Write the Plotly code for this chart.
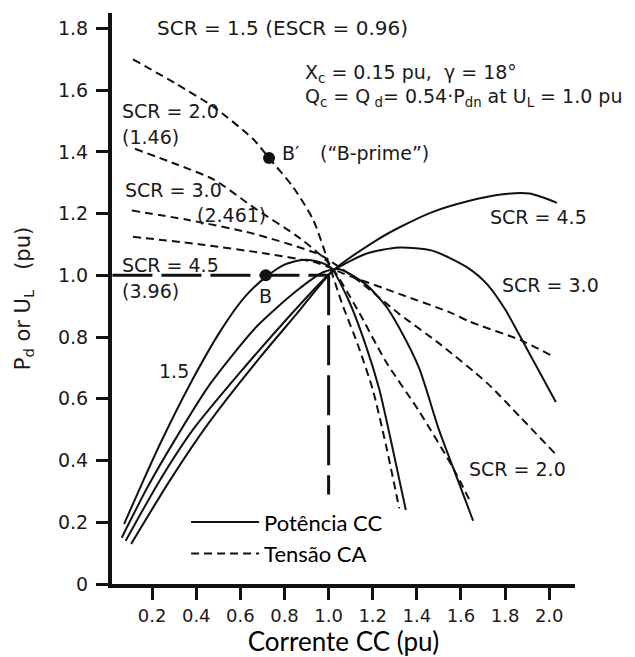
import plotly.graph_objects as go

# ---------------- data ----------------
# DC power Pd (solid) vs DC current, per SCR
pd15_x = [0.073, 0.16, 0.24, 0.37, 0.51, 0.62, 0.716, 0.80, 0.88, 0.95, 1.01, 1.09, 1.17, 1.23, 1.29, 1.35]
pd15_y = [0.195, 0.335, 0.46, 0.645, 0.82, 0.93, 0.995, 1.035, 1.05, 1.045, 1.025, 0.92, 0.77, 0.63, 0.44, 0.24]

pd20_x = [0.062, 0.18, 0.31, 0.46, 0.675, 0.855, 0.975, 1.05, 1.17, 1.26, 1.32, 1.41, 1.50, 1.60, 1.655]
pd20_y = [0.15, 0.315, 0.475, 0.645, 0.835, 0.95, 1.01, 1.02, 0.97, 0.90, 0.83, 0.70, 0.50, 0.31, 0.205]

pd30_x = [0.08, 0.23, 0.385, 0.61, 0.825, 0.975, 1.02, 1.17, 1.32, 1.47, 1.63, 1.72, 1.80, 1.87, 1.95, 2.03]
pd30_y = [0.14, 0.33, 0.50, 0.695, 0.87, 0.985, 1.015, 1.07, 1.09, 1.08, 1.025, 0.97, 0.89, 0.80, 0.695, 0.59]

pd45_x = [0.105, 0.28, 0.46, 0.69, 0.855, 1.02, 1.22, 1.32, 1.47, 1.63, 1.78, 1.91, 2.035]
pd45_y = [0.13, 0.335, 0.525, 0.735, 0.875, 1.015, 1.115, 1.155, 1.205, 1.24, 1.262, 1.265, 1.235]

# AC voltage UL (dashed) vs DC current, per SCR
ul15_x = [0.113, 0.31, 0.48, 0.66, 0.73, 0.84, 0.93, 1.0, 1.06, 1.13, 1.20, 1.26, 1.32]
ul15_y = [1.70, 1.62, 1.545, 1.44, 1.38, 1.285, 1.18, 1.04, 0.91, 0.78, 0.63, 0.45, 0.245]

ul20_x = [0.122, 0.31, 0.48, 0.66, 0.87, 1.0, 1.13, 1.26, 1.41, 1.565, 1.64]
ul20_y = [1.41, 1.36, 1.31, 1.22, 1.12, 1.04, 0.89, 0.72, 0.56, 0.375, 0.27]

ul30_x = [0.108, 0.36, 0.66, 0.95, 1.0, 1.14, 1.32, 1.50, 1.72, 1.87, 2.03]
ul30_y = [1.21, 1.18, 1.135, 1.07, 1.05, 0.98, 0.875, 0.78, 0.65, 0.54, 0.42]

ul45_x = [0.113, 0.42, 0.72, 0.95, 1.07, 1.32, 1.55, 1.64, 1.87, 2.01]
ul45_y = [1.125, 1.10, 1.07, 1.04, 1.005, 0.94, 0.88, 0.85, 0.79, 0.74]

# rated-point reference lines and marked points
ref_h_x = [0.02, 1.0]
ref_h_y = [1.0, 1.0]
ref_v_x = [1.0, 1.0]
ref_v_y = [1.0, 0.29]
point_names = ["B′", "B"]
point_x = [0.73, 0.715]
point_y = [1.38, 1.0]

x_ticks = [0.2, 0.4, 0.6, 0.8, 1.0, 1.2, 1.4, 1.6, 1.8, 2.0]
x_tick_text = ["0.2", "0.4", "0.6", "0.8", "1.0", "1.2", "1.4", "1.6", "1.8", "2.0"]
y_ticks = [0, 0.2, 0.4, 0.6, 0.8, 1.0, 1.2, 1.4, 1.6, 1.8]
y_tick_text = ["0", "0.2", "0.4", "0.6", "0.8", "1.0", "1.2", "1.4", "1.6", "1.8"]

legend_solid = "Potência CC"
legend_dashed = "Tensão CA"

# ---------------- figure ----------------
INK = "#111111"
DASH = "8px,5px"
fig = go.Figure()

solid = [(pd15_x, pd15_y), (pd20_x, pd20_y), (pd30_x, pd30_y), (pd45_x, pd45_y)]
dashed = [(ul15_x, ul15_y), (ul20_x, ul20_y), (ul30_x, ul30_y), (ul45_x, ul45_y)]

for i, (xs, ys) in enumerate(solid):
    fig.add_trace(go.Scatter(x=xs, y=ys, mode="lines",
                             line=dict(color=INK, width=2, shape="spline", smoothing=0.7),
                             name=legend_solid, showlegend=(i == 0), legendgroup="p"))
for i, (xs, ys) in enumerate(dashed):
    fig.add_trace(go.Scatter(x=xs, y=ys, mode="lines",
                             line=dict(color=INK, width=2, dash=DASH, shape="spline", smoothing=0.7),
                             name=legend_dashed, showlegend=(i == 0), legendgroup="u"))

fig.add_trace(go.Scatter(x=ref_h_x, y=ref_h_y, mode="lines", line=dict(color=INK, width=3, dash="40px,9px"),
                         showlegend=False, hoverinfo="skip"))
fig.add_trace(go.Scatter(x=ref_v_x, y=ref_v_y, mode="lines", line=dict(color=INK, width=3, dash="40px,10px"),
                         showlegend=False, hoverinfo="skip"))
fig.add_trace(go.Scatter(x=point_x, y=point_y, mode="markers", marker=dict(color=INK, size=12),
                         text=point_names, showlegend=False))

TXT = dict(family="DejaVu Sans", size=19, color="#1a1a1a")


def label(x, y, text, anchor="left", size=19):
    fig.add_annotation(x=x, y=y, xref="x", yref="y", text=text, showarrow=False,
                       xanchor=anchor, yanchor="middle", font=dict(TXT, size=size))


label(0.213, 1.80, "SCR = 1.5 (ESCR = 0.96)", size=20)
label(0.884, 1.654, "X<sub>c</sub> = 0.15 pu,  γ = 18°", size=19)
label(0.884, 1.576, "Q<sub>c</sub> = Q<sub> d</sub>= 0.54·P<sub>dn</sub> at U<sub>L</sub> = 1.0 pu", size=19)
label(0.78, 1.398, "B′")
label(0.952, 1.398, "(“B-prime”)")
label(0.054, 1.534, "SCR = 2.0")
label(0.054, 1.447, "(1.46)")
label(0.068, 1.275, "SCR = 3.0")
label(0.394, 1.194, "(2.461)")
label(0.054, 1.035, "SCR = 4.5")
label(0.054, 0.950, "(3.96)")
label(0.712, 0.934, "B", anchor="center")
label(0.299, 0.691, "1.5", anchor="center")
label(1.723, 1.190, "SCR = 4.5")
label(1.777, 0.970, "SCR = 3.0")
label(1.627, 0.373, "SCR = 2.0")

axis_common = dict(showgrid=False, zeroline=False, showline=True, linecolor=INK, linewidth=4,
                   ticks="outside", ticklen=12, tickwidth=2.5, tickcolor=INK, automargin=False,
                   tickfont=dict(family="DejaVu Sans", size=19, color="#1a1a1a"))

fig.update_layout(
    width=635, height=657,
    margin=dict(l=112, r=60, t=13, b=73),
    paper_bgcolor="white", plot_bgcolor="white",
    xaxis=dict(axis_common, range=[0.018, 2.117], tickmode="array", tickvals=x_ticks, ticktext=x_tick_text,
               tickfont=dict(family="DejaVu Sans", size=18, color="#1a1a1a"),
               title=dict(text="Corrente CC (pu)", font=dict(family="Lato", size=26, color="#000"), standoff=4)),
    yaxis=dict(axis_common, range=[0, 1.85], tickmode="array", tickvals=y_ticks, ticktext=y_tick_text,
               ticklabelstandoff=4,
               title=dict(text="P<sub>d</sub> or U<sub>L</sub>   (pu)",
                          font=dict(family="DejaVu Sans", size=21, color="#1a1a1a"), standoff=23)),
    legend=dict(x=0.16, y=0.145, xanchor="left", yanchor="top", bgcolor="rgba(0,0,0,0)",
                font=dict(family="Lato", size=22, color="#000"), itemwidth=68, tracegroupgap=0),
    showlegend=True,
)

fig.write_html("out.html", config={"displayModeBar": False},
               post_script="document.body.style.margin='0';")
